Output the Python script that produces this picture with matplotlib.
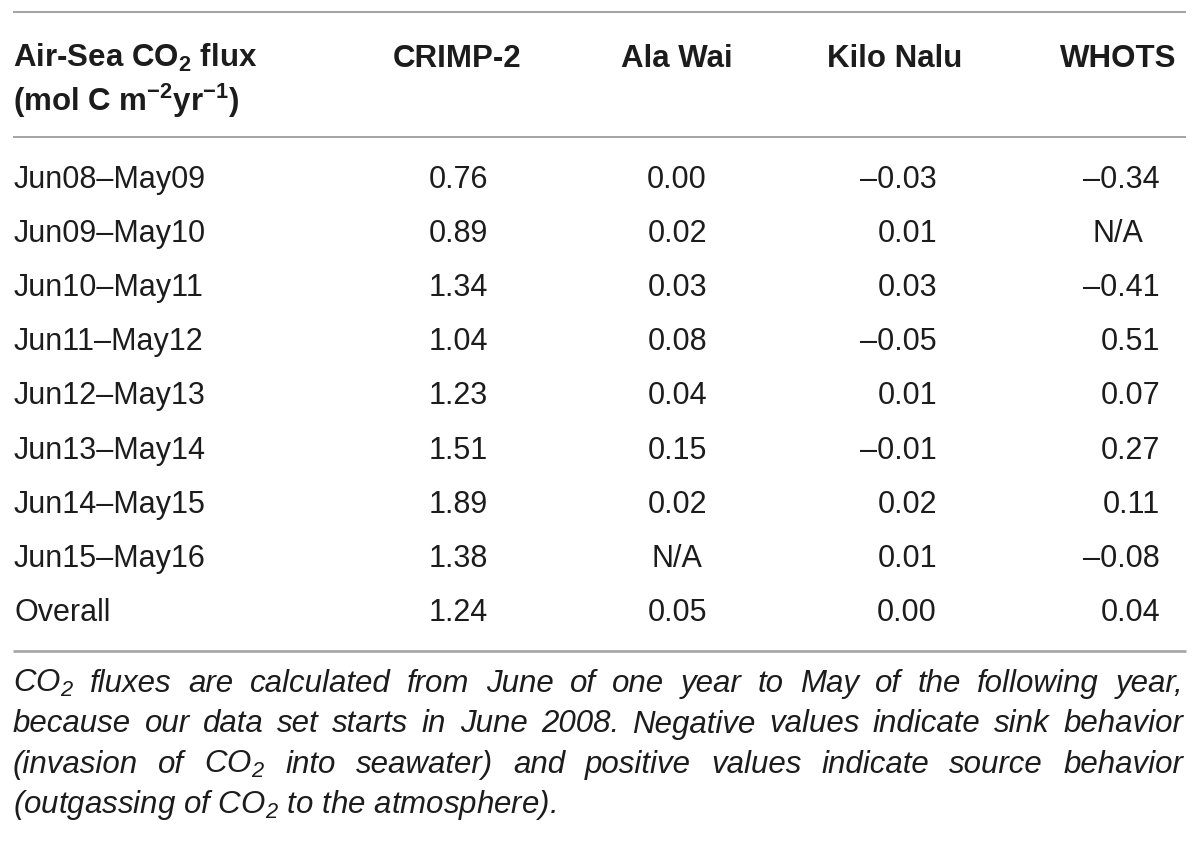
import matplotlib.pyplot as plt

# table content
periods = ["Jun08–May09", "Jun09–May10", "Jun10–May11", "Jun11–May12",
           "Jun12–May13", "Jun13–May14", "Jun14–May15", "Jun15–May16", "Overall"]
stations = ["CRIMP-2", "Ala Wai", "Kilo Nalu", "WHOTS"]
crimp2 = [0.76, 0.89, 1.34, 1.04, 1.23, 1.51, 1.89, 1.38, 1.24]
ala_wai = [0.00, 0.02, 0.03, 0.08, 0.04, 0.15, 0.02, None, 0.05]
kilo_nalu = [-0.03, 0.01, 0.03, -0.05, 0.01, -0.01, 0.02, 0.01, 0.00]
whots = [-0.34, None, -0.41, 0.51, 0.07, 0.27, 0.11, -0.08, 0.04]

footnote = [
    "CO$_\\mathdefault{2}$ fluxes are calculated from June of one year to May of the following year,",
    "because our data set starts in June 2008. Negative values indicate sink behavior",
    "(invasion of CO$_\\mathdefault{2}$ into seawater) and positive values indicate source behavior",
    "(outgassing of CO$_\\mathdefault{2}$ to the atmosphere).",
]

# layout (pixels)
LEFT, RIGHT = 14, 1186
head_centers = [457, 677, 895, 1118]
value_right = [488, 707, 937, 1160]
INK = "#1c1c1c"


def fmt(v):
    if v is None:
        return "N/A"
    return f"{v:.2f}".replace("-", "–")


plt.rcParams["font.family"] = ["Liberation Sans", "DejaVu Sans"]

fig = plt.figure(figsize=(12, 8.41), dpi=100)
ax = fig.add_axes([0, 0, 1, 1])
ax.set_xlim(0, 1200)
ax.set_ylim(841, 0)
ax.axis("off")

# horizontal rules
ax.plot([LEFT - 1, RIGHT], [12, 12], color="#a5a5a5", lw=1.5, solid_capstyle="butt")
ax.plot([LEFT - 1, RIGHT], [137, 137], color="#8c8c8c", lw=1.1, solid_capstyle="butt")
ax.plot([LEFT - 1, RIGHT], [651, 651], color="#a5a5a5", lw=1.9, solid_capstyle="butt")

# header
hdr = dict(fontsize=22.5, fontweight="bold", color=INK, va="baseline")
ax.text(LEFT - 1, 67, "Air-Sea CO$_\\mathdefault{2}$ flux", ha="left", **hdr)
ax.text(LEFT - 1, 111, "(mol C m$^{\\mathdefault{\u22122}}$yr$^{\\mathdefault{\u22121}}$)",
        ha="left", **hdr)
for name, xc in zip(stations, head_centers):
    ax.text(xc, 67, name, ha="center", **hdr)

# body rows
body = dict(fontsize=22, color=INK, va="baseline")
columns = [crimp2, ala_wai, kilo_nalu, whots]
for i, p in enumerate(periods):
    y = 188 + i * 54.1
    ax.text(LEFT, y, p, ha="left", **body)
    for col, xc, xr in zip(columns, head_centers, value_right):
        s = fmt(col[i])
        if s == "N/A":
            ax.text(xc, y, s, ha="center", **body)
        else:
            ax.text(xr, y, s, ha="right", **body)

# footnote, justified
renderer = fig.canvas.get_renderer()
note = dict(fontsize=22.5, style="italic", color=INK, va="baseline")
for k, line in enumerate(footnote):
    y = 692 + k * 40.5
    if k == len(footnote) - 1:
        ax.text(LEFT - 1, y, line, ha="left", **note)
        continue
    words = line.split(" ")
    items = [ax.text(0, y, w, ha="left", **note) for w in words]
    widths = [t.get_window_extent(renderer).width for t in items]
    gap = (RIGHT - 3 - (LEFT - 1) - sum(widths)) / (len(words) - 1)
    x = LEFT - 1
    for t, w in zip(items, widths):
        t.set_x(x)
        x += w + gap

fig.savefig("out.png", dpi=100, facecolor="white")
